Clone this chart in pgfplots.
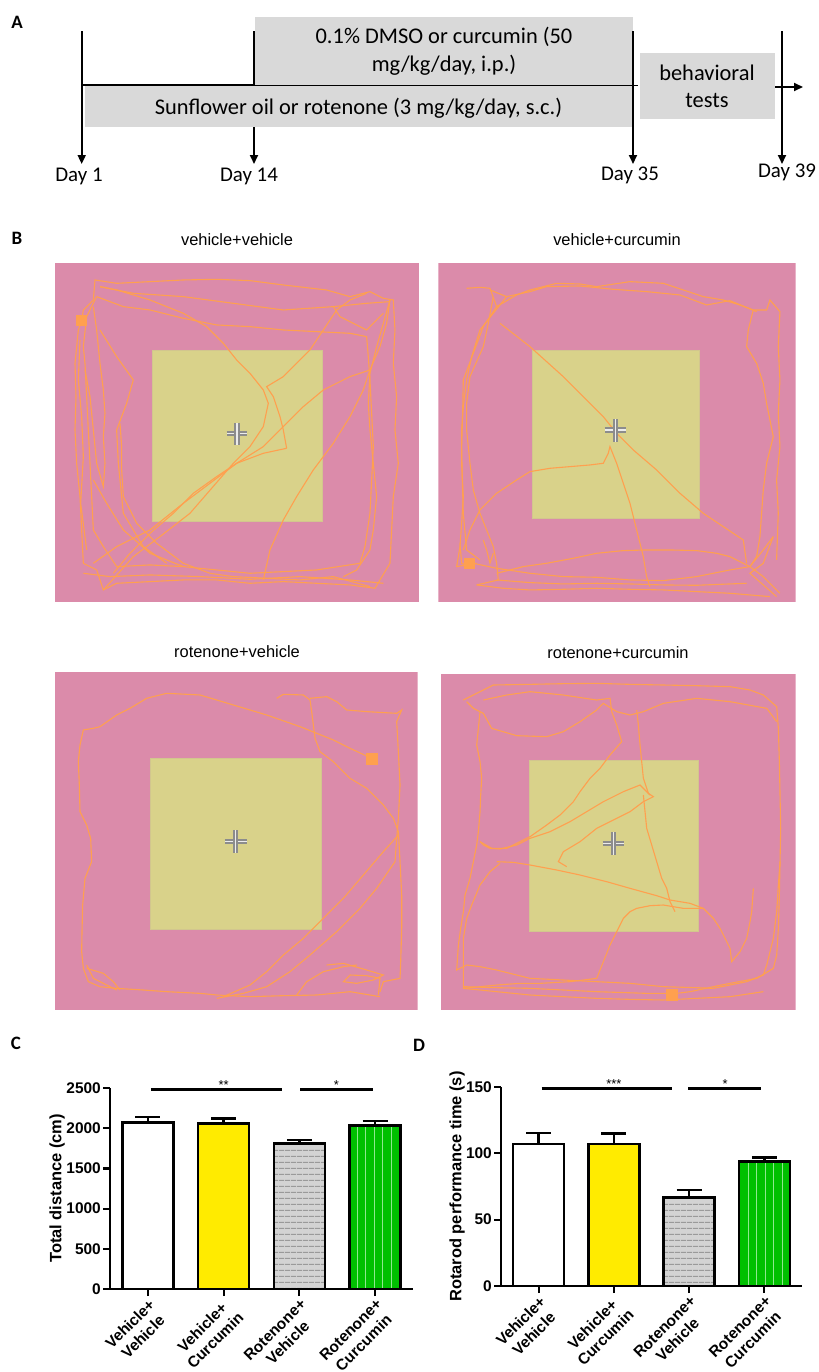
\documentclass[border=0pt]{standalone}
\usepackage{pgfplots}
\pgfplotsset{compat=1.18}
\usepackage{fontspec}
\setmainfont{Liberation Sans}
\newfontfamily\calfont{Carlito}
\usetikzlibrary{arrows.meta,patterns.meta}
\definecolor{pinkA}{HTML}{DB8BAA}
\definecolor{yelA}{HTML}{D9D28A}
\definecolor{yelB}{HTML}{D2C68E}
\definecolor{orA}{HTML}{FFA04F}
\definecolor{boxgray}{HTML}{D9D9D9}
\definecolor{barY}{HTML}{FFEB00}
\definecolor{barG}{HTML}{D3D3D3}
\definecolor{barGl}{HTML}{9A9A9A}
\definecolor{barGr}{HTML}{00C000}
\definecolor{barGrl}{HTML}{8FE88F}
\tikzset{ylab/.style={font=\bfseries\fontsize{16.5}{16.5}\selectfont}}
\pgfplotsset{
  arena/.style={scale only axis, hide axis, clip=true, y dir=reverse, anchor=north west},
  tr/.style={orA, line width=1.1bp, mark=none},
  crossm/.style={draw=gray!90, double=white!85!gray, double distance=1.2bp, line width=2bp, mark=none},
  tl/.style={black, line width=1.8bp, mark=none},
  tla/.style={black, line width=1.8bp, mark=none, -{Triangle[length=9bp,width=8bp]}},
  barax/.style={scale only axis, anchor=south west, xmin=-0.5, xmax=3.5, ymin=0,
    axis x line*=bottom, axis y line*=left, axis line style={line width=2.2bp},
    xtick={0,1,2,3}, tick style={line width=2.2bp, black}, tick align=outside, major tick length=7bp,
    xticklabels={{Vehicle+\\Vehicle},{Vehicle+\\Curcumin},{Rotenone+\\Vehicle},{Rotenone+\\Curcumin}},
    xticklabel style={font=\bfseries\fontsize{15.5}{18.5}\selectfont, rotate=45, anchor=north east, align=center, inner sep=1bp},
    yticklabel style={font=\bfseries\fontsize{15.5}{15.5}\selectfont, inner sep=2bp},
    clip=false},
  bstyle/.style={ybar, bar width=51bp, bar shift=0pt, draw=black, line width=2.5bp,
    error bars/y dir=plus, error bars/y explicit, error bars/error bar style={line width=2.5bp, black},
    error bars/error mark options={rotate=90, line width=2.5bp, mark size=12.5bp, black}},
}
\begin{document}
\begin{tikzpicture}
\useasboundingbox (0,0) rectangle (819bp,-1372bp);
% ---------------- Panel A ----------------
\begin{axis}[at={(0,0)}, anchor=north west, scale only axis, width=819bp, height=200bp,
  xmin=0, xmax=819, ymin=0, ymax=200, y dir=reverse, hide axis, clip=false]
\addplot[fill=boxgray, draw=none] coordinates {(255,16.7)(633,16.7)(633,85)(255,85)} -- cycle;
\addplot[fill=boxgray, draw=none] coordinates {(85,86)(632,86)(632,127)(85,127)} -- cycle;
\addplot[fill=boxgray, draw=none] coordinates {(640,53)(775,53)(775,119)(640,119)} -- cycle;
\addplot[black, line width=2.2bp, mark=none] coordinates {(81,85)(255,85)};
\addplot[black, line width=1.2bp, mark=none] coordinates {(254,85.6)(638,85.6)};
\addplot[tla] coordinates {(81.7,31)(81.7,164)};
\addplot[tl] coordinates {(254,31)(254,85)};
\addplot[tla] coordinates {(254,127)(254,164)};
\addplot[tla] coordinates {(633,31)(633,164)};
\addplot[tla] coordinates {(782,31)(782,164)};
\addplot[tla] coordinates {(775,87)(803,87)};
\end{axis}
\begin{scope}[font=\calfont\fontsize{22.5}{28}\selectfont]
\node[align=center] at (444bp,-51bp) {0.1\% DMSO or curcumin (50\\mg/kg/day, i.p.)};
\node at (358.5bp,-108bp) {Sunflower oil or rotenone (3 mg/kg/day, s.c.)};
\node[align=center, font=\calfont\fontsize{22.5}{27}\selectfont] at (707bp,-86.5bp) {behavioral\\tests};
\end{scope}
\begin{scope}[font=\calfont\fontsize{21}{25}\selectfont]
\node at (79bp,-176bp) {Day 1};
\node at (249bp,-176bp) {Day 14};
\node at (630bp,-175bp) {Day 35};
\node at (787bp,-172bp) {Day 39};
\end{scope}
\begin{scope}[font=\calfont\bfseries\fontsize{19}{19}\selectfont]
\node at (17bp,-22bp) {A};
\node at (17bp,-238bp) {B};
\node at (16bp,-1043bp) {C};
\node at (419bp,-1045bp) {D};
\end{scope}
% ---------------- Panel B ----------------
\begin{scope}[font=\fontsize{16.5}{17}\selectfont]
\node[anchor=base] at (237bp,-245bp) {vehicle+vehicle};
\node[anchor=base] at (617bp,-245bp) {vehicle+curcumin};
\node[anchor=base] at (237bp,-657bp) {rotenone+vehicle};
\node[anchor=base] at (618bp,-658bp) {rotenone+curcumin};
\end{scope}
% arena 1
\begin{axis}[arena, at={(55bp,-263.3bp)}, width=364.3bp, height=338.3bp, xmin=15, xmax=1108, ymin=100, ymax=1115]
\addplot[fill=pinkA, draw=none] coordinates {(15,100)(1108,100)(1108,1115)(15,1115)} -- cycle;
\addplot[fill=yelA, draw=yelB, line width=0.8bp] coordinates {(307,360)(818,360)(818,873)(307,873)} -- cycle;
\addplot[tr] coordinates {(95,272)(100,240)(130,210)(135,150)(200,160)(300,155)(400,150)(500,148)(600,152)(700,165)(830,180)(900,200)(960,185)(1000,205)(1030,210)(1035,300)(1030,400)(1040,500)(1035,600)(1045,700)(1030,800)(1025,900)(1020,1000)(975,1075)(900,1065)(800,1060)(700,1055)(600,1060)(500,1050)(400,1050)(300,1055)(200,1060)(160,1080)(140,1020)(100,1000)(95,900)(90,800)(80,700)(75,600)(78,500)(75,400)(85,300)(95,272)};
\addplot[tr] coordinates {(140,200)(220,230)(300,240)(400,265)(500,285)(600,290)(700,300)(800,305)(900,310)(950,320)(955,380)(960,450)(965,550)(970,650)(965,750)(960,850)(945,950)(930,1000)(800,1020)(700,1025)(600,1030)(500,1020)(400,1010)(300,1005)(200,1010)(160,950)(130,900)(125,800)(120,700)(115,600)(110,500)(105,400)(100,350)(110,260)(140,200)};
\addplot[tr] coordinates {(130,1000)(200,950)(300,900)(400,820)(480,760)(560,700)(640,650)(700,590)(760,530)(820,480)(900,440)(960,420)};
\addplot[tr] coordinates {(160,1080)(250,980)(330,920)(420,850)(550,700)(600,650)(640,590)(655,520)(640,480)(600,430)(560,390)(520,340)(470,290)(400,250)(300,210)(200,180)(150,170)};
\addplot[tr] coordinates {(640,1050)(660,960)(700,870)(740,800)(790,720)(850,640)(900,560)(940,480)(960,420)(990,350)(1010,280)(1020,210)};
\addplot[tr] coordinates {(710,655)(700,600)(690,560)(670,500)(650,470)(700,440)(740,400)(780,360)(820,300)(860,240)(900,210)(950,190)};
\addplot[tr] coordinates {(710,655)(640,670)(560,700)(500,740)(430,790)(370,850)(300,910)(240,970)(190,1030)};
\addplot[tr] coordinates {(130,230)(140,300)(150,400)(160,480)(165,550)(160,620)(165,700)(160,770)(140,700)(130,600)(120,500)(105,420)};
\addplot[tr] coordinates {(210,580)(215,650)(215,720)(220,800)(260,880)(320,940)(400,1000)(480,1030)(550,1040)(650,1045)(750,1050)(850,1040)(960,1070)};
\addplot[tr] coordinates {(1020,210)(1000,280)(980,350)(960,430)(955,520)(960,600)(970,700)(980,800)(970,900)(960,960)(920,1020)(880,1040)};
\addplot[tr] coordinates {(150,300)(200,380)(250,450)(230,520)(200,600)(205,700)(220,850)(280,950)(350,1000)};
\addplot[tr] coordinates {(130,750)(170,820)(220,900)(300,970)(400,1010)};
\addplot[tr] coordinates {(150,170)(250,190)(400,200)(550,220)(700,240)(850,230)(950,220)(1020,215)};
\addplot[tr] coordinates {(850,230)(870,260)(950,300)(1000,250)};
\addplot[tr] coordinates {(100,1030)(180,1040)(300,1035)(450,1040)(600,1048)(750,1040)(900,1050)(1000,1060)};
\addplot[tr] coordinates {(90,330)(85,450)(95,560)(100,680)(92,820)(110,960)};
\addplot[crossm] coordinates {(530,610)(592,610)};
\addplot[crossm] coordinates {(561,578)(561,645)};
\addplot[only marks, mark=square*, mark size=5bp, orA] coordinates {(95,272)};
\end{axis}
% arena 2
\begin{axis}[arena, at={(438.3bp,-263.3bp)}, width=357.3bp, height=338.3bp, xmin=25, xmax=1097, ymin=100, ymax=1115]
\addplot[fill=pinkA, draw=none] coordinates {(25,100)(1097,100)(1097,1115)(25,1115)} -- cycle;
\addplot[fill=yelA, draw=yelB, line width=0.8bp] coordinates {(307,362)(808,362)(808,866)(307,866)} -- cycle;
\addplot[tr] coordinates {(110,175)(150,172)(180,175)(200,230)(260,195)(300,180)(380,160)(450,162)(500,170)(600,155)(700,160)(760,180)(820,200)(880,210)(930,225)(970,240)(1010,240)(1020,210)(1050,245)(1045,350)(1050,450)(1045,550)(1050,650)(1040,750)(1045,850)(1040,990)};
\addplot[tr] coordinates {(180,180)(230,200)(300,185)(350,170)(450,168)(550,178)(650,185)(750,195)(830,225)(900,212)(980,245)};
\addplot[tr] coordinates {(230,200)(190,250)(150,300)(125,380)(110,450)(100,530)(95,600)(95,700)(100,800)(95,880)(90,950)(80,1010)(110,1005)(140,1000)};
\addplot[tr] coordinates {(200,230)(160,290)(130,370)(100,450)(98,550)(95,650)(97,750)(100,850)(110,960)(150,990)};
\addplot[tr] coordinates {(190,200)(175,280)(160,350)(120,440)(110,520)(110,600)(120,700)(130,780)(150,850)(170,900)(190,950)(200,1000)(205,1050)(140,1065)};
\addplot[tr] coordinates {(970,240)(955,300)(950,350)(980,400)(1000,460)(1010,520)(1030,620)(1010,700)(1000,780)(995,850)(990,920)(980,980)(960,1010)};
\addplot[tr] coordinates {(210,280)(300,350)(400,440)(470,510)(520,560)(560,610)(610,660)(680,720)(750,790)(820,850)(880,890)(940,930)(950,1000)};
\addplot[tr] coordinates {(100,960)(120,900)(150,840)(200,790)(260,750)(300,725)(360,715)(420,710)(480,705)(520,700)(535,670)(540,650)(560,700)(580,760)(600,820)(620,900)(640,980)(650,1040)(660,1070)};
\addplot[tr] coordinates {(140,1065)(220,1075)(300,1080)(400,1078)(500,1075)(600,1078)(700,1080)(800,1085)(900,1090)(1020,1100)};
\addplot[tr] coordinates {(130,1000)(200,1015)(300,1030)(400,1040)(500,1042)(600,1050)(700,1052)(800,1040)(900,1020)(960,1010)(1000,960)(1030,920)};
\addplot[tr] coordinates {(200,1030)(280,1010)(350,1000)(430,985)(500,970)(580,962)(650,960)(720,960)(800,962)(860,970)(900,980)(960,1010)(1000,1040)(1050,1090)};
\addplot[tr] coordinates {(200,1050)(300,1058)(400,1062)(500,1060)(600,1062)(700,1065)(800,1066)(900,1062)(950,1060)};
\addplot[tr] coordinates {(160,930)(170,960)(180,1000)(190,970)};
\addplot[tr] coordinates {(90,940)(95,1000)(120,1010)};
\addplot[tr] coordinates {(1030,920)(1000,1000)(960,1030)(1040,1100)};
\addplot[crossm] coordinates {(524,600)(588,600)};
\addplot[crossm] coordinates {(556,568)(556,635)};
\addplot[only marks, mark=square*, mark size=5bp, orA] coordinates {(118,1000)};
\end{axis}
% arena 3
\begin{axis}[arena, at={(55bp,-672.3bp)}, width=362.7bp, height=337.7bp, xmin=15, xmax=1103, ymin=82, ymax=1095]
\addplot[fill=pinkA, draw=none] coordinates {(15,82)(1103,82)(1103,1095)(15,1095)} -- cycle;
\addplot[fill=yelA, draw=yelB, line width=0.8bp] coordinates {(302,340)(813,340)(813,853)(302,853)} -- cycle;
\addplot[tr] coordinates {(965,340)(900,310)(850,285)(750,245)(650,210)(550,180)(450,150)(350,145)(290,160)(240,190)(200,210)(150,245)(130,250)(100,255)(90,300)(85,350)(88,420)(90,500)(110,540)(122,580)(125,650)(105,700)(98,780)(96,860)(95,920)(100,970)(115,1010)(150,1025)(200,1030)(280,1035)(350,1040)(450,1045)(500,1050)(600,1055)(700,1052)(800,1050)(900,1040)(990,1055)};
\addplot[tr] coordinates {(680,160)(700,148)(760,150)(780,165)(785,200)(790,240)(795,280)(810,320)(850,350)(900,400)(950,430)(1000,480)(1030,520)(1045,560)(1050,650)(1055,750)(1055,850)(1052,950)(1050,1000)(1000,1010)(990,1040)};
\addplot[tr] coordinates {(780,160)(830,155)(860,170)(890,195)(950,200)(1040,205)(1055,195)(1040,230)(1045,320)(1050,420)(1045,520)(1040,580)(1035,650)(980,730)(930,790)(860,860)(780,930)(720,980)(650,1025)(580,1045)(500,1060)};
\addplot[tr] coordinates {(1045,570)(1000,620)(940,690)(880,760)(820,820)(760,880)(700,930)(650,980)(600,1020)(520,1055)};
\addplot[tr] coordinates {(110,960)(130,1000)(200,1035)};
\addplot[tr] coordinates {(110,970)(160,985)(190,1010)(210,1035)};
\addplot[tr] coordinates {(830,960)(880,955)(950,975)(1000,990)(970,1005)(920,1015)(880,1010)(900,990)(950,992)(990,1000)(985,1050)};
\addplot[tr] coordinates {(740,1050)(770,1010)(820,980)(880,965)(920,960)};
\addplot[crossm] coordinates {(524,590)(590,590)};
\addplot[crossm] coordinates {(557,556)(557,625)};
\addplot[only marks, mark=square*, mark size=5.5bp, orA] coordinates {(965,340)};
\end{axis}
% arena 4
\begin{axis}[arena, at={(440.7bp,-674bp)}, width=355bp, height=336bp, xmin=32, xmax=1097, ymin=87, ymax=1095]
\addplot[fill=pinkA, draw=none] coordinates {(32,87)(1097,87)(1097,1095)(32,1095)} -- cycle;
\addplot[fill=yelA, draw=yelB, line width=0.8bp] coordinates {(297,345)(805,345)(805,860)(297,860)} -- cycle;
\addplot[tr] coordinates {(100,165)(150,140)(190,120)(300,118)(400,116)(500,115)(600,118)(700,120)(800,122)(900,125)(960,135)(1000,150)(1040,185)(1045,250)(1048,350)(1050,450)(1052,550)(1050,650)(1048,750)(1045,850)(1040,930)(1030,970)(980,1000)(900,1015)(850,1025)(780,1040)(740,1045)(650,1045)(500,1040)(400,1035)(300,1030)(200,1028)(100,1025)};
\addplot[tr] coordinates {(110,170)(130,190)(160,205)(185,250)(260,272)(350,275)(400,260)(450,230)(500,195)(520,175)(560,200)(600,210)(640,200)(700,175)(800,160)(900,170)(1010,190)(1040,230)};
\addplot[tr] coordinates {(160,165)(230,150)(300,140)(400,150)(500,165)(540,160)(545,200)(560,240)(575,290)(540,330)(510,370)(480,400)(450,440)(430,470)(390,510)(350,540)(300,575)(230,610)(185,610)(150,590)};
\addplot[tr] coordinates {(150,200)(145,250)(140,300)(150,350)(155,400)(152,450)(150,500)(145,560)(140,600)(130,650)(120,700)(105,750)(100,800)(92,850)(85,900)(80,975)(110,960)(150,965)(200,975)(300,1000)(400,1005)(500,1010)(600,1015)(700,1025)(800,1028)(850,1030)(950,1010)(1000,990)(1010,960)(1030,880)(1040,800)(1045,720)(1050,650)};
\addplot[tr] coordinates {(620,195)(625,240)(630,300)(635,350)(640,400)(655,445)(670,455)(640,470)(600,500)(560,520)(500,550)(450,590)(400,620)(385,650)(410,665)};
\addplot[tr] coordinates {(640,450)(645,500)(650,550)(665,600)(680,650)(695,700)(710,730)(720,770)(735,800)};
\addplot[tr] coordinates {(200,650)(250,652)(300,660)(380,675)(450,690)(530,710)(600,730)(680,752)(720,765)(780,775)(820,790)(850,820)(870,850)(890,890)(900,910)(905,950)(930,920)(950,880)(960,830)(965,800)(970,730)};
\addplot[tr] coordinates {(210,655)(180,680)(150,720)(125,780)(110,820)(100,880)(100,950)(100,1030)(150,1025)(200,1020)(270,1015)(330,1015)(420,1010)(500,1000)(520,950)(540,900)(560,860)(580,820)(600,800)(620,790)(660,782)(700,780)(760,790)(820,790)};
\addplot[tr] coordinates {(100,1030)(200,1040)(300,1050)(400,1055)(500,1060)(600,1063)(700,1065)(800,1060)(900,1055)(1000,1040)};
\addplot[tr] coordinates {(150,590)(160,600)(180,610)(210,612)(260,600)(300,580)(360,560)(420,530)(470,500)(520,470)(580,440)(630,420)(660,450)};
\addplot[crossm] coordinates {(518,595)(583,595)};
\addplot[crossm] coordinates {(550,562)(550,630)};
\addplot[only marks, mark=square*, mark size=5.5bp, orA] coordinates {(725,1050)};
\end{axis}
% ---------------- Panel C ----------------
\begin{axis}[barax, at={(110bp,-1289bp)}, width=303bp, height=201bp, ymax=2500,
  ytick={0,500,1000,1500,2000,2500}, yticklabels={0,500,1000,1500,2000,2500}]
\addplot[bstyle, fill=white] coordinates {(0,2073) +- (0,66)};
\addplot[bstyle, fill=barY] coordinates {(1,2061) +- (0,58)};
\addplot[bstyle, preaction={fill=barG}, pattern={Lines[angle=0,distance=6bp,line width=1bp]}, pattern color=barGl] coordinates {(2,1812) +- (0,41)};
\addplot[bstyle, preaction={fill=barGr}, pattern={Lines[angle=90,distance=8.5bp,line width=1bp]}, pattern color=barGrl] coordinates {(3,2036) +- (0,54)};
\addplot[black, line width=2.5bp, mark=none] coordinates {(0.04,2479)(1.77,2479)};
\addplot[black, line width=2.5bp, mark=none] coordinates {(2.01,2479)(2.97,2479)};
\node[anchor=base, font=\fontsize{13}{13}\selectfont] at (axis cs:1.0,2479) {**};
\node[anchor=base, font=\fontsize{13}{13}\selectfont] at (axis cs:2.49,2479) {*};
\node[ylab, xshift=-53bp, rotate=90] at (rel axis cs:0,0.5) {Total distance (cm)};
\end{axis}
% ---------------- Panel D ----------------
\begin{axis}[barax, at={(501bp,-1286bp)}, width=301bp, height=199bp, ymax=150,
  ytick={0,50,100,150}, yticklabels={0,50,100,150}]
\addplot[bstyle, fill=white] coordinates {(0,107.2) +- (0,8.1)};
\addplot[bstyle, fill=barY] coordinates {(1,107.2) +- (0,7.6)};
\addplot[bstyle, preaction={fill=barG}, pattern={Lines[angle=0,distance=6bp,line width=1bp]}, pattern color=barGl] coordinates {(2,66.9) +- (0,5.5)};
\addplot[bstyle, preaction={fill=barGr}, pattern={Lines[angle=90,distance=8.5bp,line width=1bp]}, pattern color=barGrl] coordinates {(3,93.9) +- (0,2.8)};
\addplot[black, line width=2.5bp, mark=none] coordinates {(0.04,149)(1.77,149)};
\addplot[black, line width=2.5bp, mark=none] coordinates {(1.99,149)(2.95,149)};
\node[anchor=base, font=\fontsize{13}{13}\selectfont] at (axis cs:1.0,149) {***};
\node[anchor=base, font=\fontsize{13}{13}\selectfont] at (axis cs:2.48,149) {*};
\node[ylab, xshift=-44bp, rotate=90] at (rel axis cs:0,0.5) {Rotarod performance time (s)};
\end{axis}
\end{tikzpicture}
\end{document}
